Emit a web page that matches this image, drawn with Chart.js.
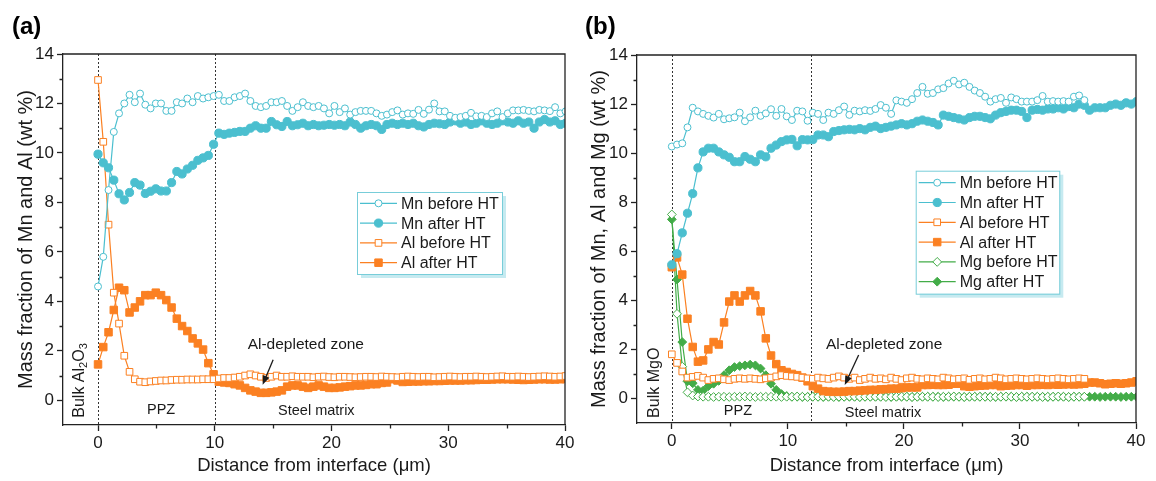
<!DOCTYPE html>
<html>
<head>
<meta charset="utf-8">
<script src="https://cdn.jsdelivr.net/npm/chart.js@4.4.0/dist/chart.umd.min.js"></script>
<style>
  html, body { margin: 0; padding: 0; background: #fff; }
  #wrap { position: relative; width: 1156px; height: 481px; }
  .panel { position: absolute; top: 0; width: 578px; height: 481px; }
</style>
</head>
<body>
<div id="wrap">
  <div class="panel" style="left:0"><canvas id="chartA" width="578" height="481"></canvas></div>
  <div class="panel" style="left:578px"><canvas id="chartB" width="578" height="481"></canvas></div>
</div>
<script>
// line scan spacing, µm (point i sits at i * STEP)
const STEP = 0.45;

// (a) Al2O3 side
const aMnBefore = [4.6,5.8,8.5,10.85,11.6,12.0,12.35,12.05,12.4,11.95,
  11.8,12.0,12.0,11.7,11.7,12.05,12.0,12.2,12.05,12.3,
  12.2,12.25,12.3,12.35,12.1,12.1,12.25,12.3,12.4,12.1,
  11.9,11.85,11.9,12.05,12.05,12.1,11.9,11.7,11.85,12.05,
  11.9,11.85,11.9,11.8,11.6,11.9,11.65,11.8,11.55,11.65,
  11.7,11.7,11.7,11.6,11.5,11.55,11.65,11.72,11.55,11.6,
  11.58,11.74,11.58,11.75,12.0,11.68,11.68,11.5,11.42,11.45,
  11.5,11.62,11.48,11.5,11.45,11.6,11.68,11.45,11.6,11.72,
  11.72,11.74,11.7,11.68,11.74,11.72,11.69,11.85,11.6,11.68];
const aMnAfter = [9.95,9.6,9.4,8.9,8.35,8.1,8.4,8.8,8.7,8.36,
  8.45,8.55,8.46,8.46,8.8,9.25,9.15,9.35,9.5,9.7,
  9.8,9.9,10.35,10.8,10.75,10.8,10.83,10.87,10.87,11.0,
  11.1,11.0,11.0,11.27,11.14,11.07,11.27,11.1,11.14,11.2,
  11.1,11.15,11.1,11.12,11.15,11.12,11.15,11.1,11.25,11.15,
  11.0,11.1,11.15,11.1,10.95,11.15,11.2,11.15,11.2,11.15,
  11.2,11.1,11.05,11.15,11.2,11.18,11.15,11.25,11.3,11.2,
  11.25,11.15,11.2,11.3,11.2,11.15,11.2,11.3,11.25,11.2,
  11.3,11.2,11.25,11.0,11.25,11.35,11.25,11.3,11.15,11.2];
const aAlBefore = [12.95,10.45,7.1,4.35,3.1,1.8,1.15,0.85,0.75,0.73,
  0.76,0.78,0.8,0.8,0.82,0.83,0.83,0.84,0.84,0.84,
  0.85,0.85,0.85,0.88,0.9,0.9,0.92,0.95,1.0,1.05,
  1.0,0.95,0.9,0.95,1.0,0.95,0.95,0.97,0.95,0.95,
  0.95,0.93,0.95,0.96,0.94,0.93,0.95,0.95,0.94,0.93,
  0.94,0.95,0.95,0.94,0.96,0.95,0.94,0.93,0.95,0.96,
  0.95,0.94,0.95,0.95,0.93,0.94,0.95,0.96,0.95,0.94,
  0.95,0.95,0.96,0.95,0.94,0.95,0.96,0.97,0.95,0.95,
  0.96,0.95,0.94,0.95,0.96,0.97,0.96,0.95,0.96,0.98];
const aAlAfter = [1.45,2.15,2.75,3.65,4.55,4.45,3.55,3.75,4.0,4.25,
  4.25,4.35,4.25,4.05,3.75,3.3,3.0,2.8,2.5,2.3,
  2.05,1.5,1.05,0.75,0.72,0.7,0.65,0.6,0.5,0.4,
  0.35,0.3,0.3,0.32,0.35,0.4,0.55,0.6,0.6,0.55,
  0.5,0.55,0.6,0.55,0.5,0.5,0.52,0.55,0.57,0.6,
  0.6,0.62,0.65,0.65,0.7,0.72,0.85,0.8,0.74,0.75,
  0.76,0.76,0.77,0.77,0.78,0.78,0.79,0.8,0.8,0.8,
  0.81,0.81,0.82,0.83,0.83,0.84,0.85,0.85,0.85,0.84,
  0.83,0.82,0.83,0.84,0.85,0.85,0.84,0.84,0.85,0.86];

// (b) MgO side ("before HT" scans stop near 35.5 µm)
const bMnBefore = [10.27,10.35,10.4,11.05,11.85,11.7,11.6,11.52,11.45,11.6,
  11.38,11.42,11.46,11.65,11.3,11.46,11.73,11.52,11.62,11.79,
  11.52,11.8,11.5,11.35,11.73,11.7,11.32,11.65,11.6,11.35,
  11.65,11.6,11.75,11.9,11.56,11.73,11.7,11.75,11.72,11.8,
  11.96,11.85,11.6,12.15,12.1,12.05,12.2,12.45,12.7,12.42,
  12.45,12.6,12.65,12.84,12.95,12.8,12.87,12.7,12.55,12.45,
  12.3,12.1,12.2,12.25,12.05,12.27,12.2,12.1,12.1,12.1,
  12.16,12.33,12.1,12.12,12.1,12.12,12.1,12.3,12.35,12.16];
const bMnAfter = [5.45,5.9,6.75,7.55,8.35,9.4,10.05,10.2,10.2,10.05,
  9.93,9.83,9.65,9.65,9.86,9.75,9.65,9.93,9.85,10.2,
  10.33,10.47,10.54,10.56,10.3,10.55,10.54,10.55,10.74,10.74,
  10.67,10.88,10.92,10.95,10.97,10.95,11.0,10.95,11.05,11.1,
  11.0,11.05,11.1,11.15,11.2,11.15,11.2,11.3,11.35,11.3,
  11.25,11.15,11.55,11.5,11.45,11.4,11.35,11.45,11.5,11.5,
  11.45,11.4,11.55,11.65,11.7,11.75,11.75,11.7,11.45,11.75,
  11.78,11.75,11.8,11.8,11.85,11.8,11.9,11.85,12.0,11.95,
  11.75,11.85,11.85,11.85,11.95,12.0,11.95,12.05,12.0,12.1];
const bAlBefore = [1.8,1.45,1.1,0.85,0.88,0.92,0.85,0.75,0.8,0.82,
  0.78,0.75,0.8,0.82,0.8,0.82,0.8,0.78,0.82,0.85,
  0.9,0.95,0.92,0.9,0.88,0.85,0.82,0.8,0.85,0.82,
  0.8,0.85,0.9,0.85,0.8,0.85,0.75,0.8,0.85,0.8,
  0.82,0.78,0.85,0.8,0.75,0.82,0.85,0.8,0.78,0.82,
  0.8,0.78,0.85,0.82,0.78,0.8,0.82,0.76,0.8,0.82,
  0.78,0.8,0.85,0.82,0.78,0.8,0.82,0.8,0.78,0.8,
  0.82,0.8,0.78,0.8,0.82,0.8,0.78,0.8,0.82,0.8];
const bAlAfter = [5.35,5.75,5.05,3.25,2.1,1.5,1.55,2.0,2.3,2.2,
  3.1,3.95,4.2,3.95,4.2,4.38,4.2,3.55,2.45,1.75,
  1.4,1.15,1.08,1.0,0.95,0.85,0.7,0.5,0.4,0.3,
  0.28,0.27,0.27,0.28,0.3,0.3,0.32,0.33,0.35,0.35,
  0.37,0.38,0.4,0.4,0.42,0.45,0.45,0.45,0.55,0.55,
  0.56,0.55,0.55,0.56,0.6,0.6,0.5,0.48,0.5,0.52,
  0.53,0.55,0.55,0.5,0.52,0.53,0.55,0.55,0.52,0.55,
  0.55,0.56,0.55,0.57,0.56,0.57,0.58,0.57,0.58,0.6,
  0.65,0.65,0.62,0.58,0.6,0.62,0.6,0.62,0.65,0.7];
const bMgBefore = [7.5,3.45,1.3,0.25,0.12,0.08,0.07,0.07,0.06,0.07,
  0.07,0.06,0.07,0.07,0.08,0.07,0.06,0.07,0.07,0.07,
  0.07,0.06,0.07,0.07,0.08,0.07,0.06,0.07,0.07,0.07,
  0.07,0.06,0.07,0.07,0.08,0.07,0.06,0.07,0.07,0.07,
  0.07,0.06,0.07,0.07,0.08,0.07,0.06,0.07,0.07,0.07,
  0.07,0.06,0.07,0.07,0.08,0.07,0.06,0.07,0.07,0.07,
  0.07,0.06,0.07,0.07,0.08,0.07,0.06,0.07,0.07,0.07,
  0.07,0.06,0.07,0.07,0.08,0.07,0.06,0.07,0.07,0.07];
const bMgAfter = [7.3,4.85,2.3,0.7,0.62,0.35,0.32,0.5,0.6,0.72,
  0.95,1.15,1.28,1.32,1.35,1.38,1.35,1.22,0.95,0.6,
  0.35,0.18,0.1,0.07,0.07,0.06,0.07,0.07,0.07,0.06,
  0.07,0.07,0.06,0.07,0.07,0.07,0.06,0.07,0.07,0.07,
  0.07,0.07,0.06,0.07,0.07,0.07,0.06,0.07,0.07,0.07,
  0.07,0.07,0.06,0.07,0.07,0.07,0.06,0.07,0.07,0.07,
  0.07,0.07,0.06,0.07,0.07,0.07,0.06,0.07,0.07,0.07,
  0.07,0.07,0.06,0.07,0.07,0.07,0.06,0.07,0.07,0.07,
  0.07,0.07,0.06,0.07,0.07,0.07,0.06,0.07,0.07,0.07];

const FONT = "'Liberation Sans', Arial, sans-serif";
const INK = '#1a1a1a';
const AXIS = '#222';
const MN = '#4bbfcf';
const AL = '#fb8022';
const MG = '#43ac48';

function series(label, vals, color, style, filled) {
  const r = { circle: filled ? 4.1 : 3.5, rect: filled ? 5.3 : 4.7, rectRot: 4.4 }[style];
  return {
    label,
    data: vals.map((v, i) => ({ x: +(i * STEP).toFixed(2), y: v })),
    borderColor: color,
    backgroundColor: filled ? color : '#fff',
    borderWidth: 1.2,
    pointStyle: style,
    pointRadius: r,
    pointBorderWidth: 1,
    pointBorderColor: color,
    pointBackgroundColor: filled ? color : '#fff',
    tension: 0
  };
}

function drawMarker(ctx, style, x, y, r, color, fill) {
  ctx.beginPath();
  if (style === 'circle') {
    ctx.arc(x, y, r, 0, Math.PI * 2);
  } else if (style === 'rect') {
    const s = r * Math.SQRT1_2;
    ctx.rect(x - s, y - s, 2 * s, 2 * s);
  } else {
    ctx.moveTo(x, y - r); ctx.lineTo(x + r, y); ctx.lineTo(x, y + r); ctx.lineTo(x - r, y); ctx.closePath();
  }
  ctx.fillStyle = fill; ctx.fill();
  ctx.lineWidth = 1; ctx.strokeStyle = color; ctx.stroke();
}

const framePlugin = {
  id: 'frame',
  beforeDatasetsDraw(chart, args, o) {
    const { ctx, chartArea: a } = chart;
    const xs = chart.scales.x;
    ctx.save();
    ctx.strokeStyle = '#333';
    ctx.lineWidth = 1;
    ctx.setLineDash([2, 2]);
    o.guides.forEach(v => {
      const px = Math.round(xs.getPixelForValue(v)) + 0.5;
      ctx.beginPath(); ctx.moveTo(px, a.top); ctx.lineTo(px, a.bottom); ctx.stroke();
    });
    ctx.restore();
  },
  afterDraw(chart, args, o) {
    const { ctx, chartArea: a } = chart;
    const xs = chart.scales.x, ys = chart.scales.y;
    ctx.save();

    // top + right frame, minor ticks
    ctx.strokeStyle = AXIS;
    ctx.lineWidth = 1.3;
    ctx.beginPath();
    ctx.moveTo(a.left, a.top); ctx.lineTo(a.right, a.top); ctx.lineTo(a.right, a.bottom);
    ctx.stroke();
    ctx.beginPath();
    [1, 3, 5, 7, 9, 11, 13].forEach(v => {
      const py = Math.round(ys.getPixelForValue(v)) + 0.5;
      ctx.moveTo(a.left, py); ctx.lineTo(a.left - 3.5, py);
    });
    [5, 15, 25, 35].forEach(v => {
      const px = Math.round(xs.getPixelForValue(v)) + 0.5;
      ctx.moveTo(px, a.bottom); ctx.lineTo(px, a.bottom + 3.5);
    });
    ctx.stroke();

    // zone labels
    ctx.fillStyle = INK;
    ctx.textAlign = 'center';
    ctx.textBaseline = 'middle';
    o.notes.forEach(n => {
      ctx.font = n.size + 'px ' + FONT;
      ctx.fillText(n.text, xs.getPixelForValue(n.x), ys.getPixelForValue(n.y));
    });

    // rotated "Bulk ..." label with subscripts
    const bx = xs.getPixelForValue(o.bulk.x), by = ys.getPixelForValue(o.bulk.y);
    ctx.save();
    ctx.translate(bx, by);
    ctx.rotate(-Math.PI / 2);
    ctx.textAlign = 'left';
    ctx.textBaseline = 'middle';
    let total = 0;
    o.bulk.parts.forEach(p => { ctx.font = (p[1] ? 11 : 16) + 'px ' + FONT; total += ctx.measureText(p[0]).width; });
    let cx = -total / 2;
    o.bulk.parts.forEach(p => {
      ctx.font = (p[1] ? 11 : 16) + 'px ' + FONT;
      ctx.fillText(p[0], cx, p[1] ? 4 : 0);
      cx += ctx.measureText(p[0]).width;
    });
    ctx.restore();

    // arrow
    const x1 = xs.getPixelForValue(o.arrow.from[0]), y1 = ys.getPixelForValue(o.arrow.from[1]);
    const x2 = xs.getPixelForValue(o.arrow.to[0]), y2 = ys.getPixelForValue(o.arrow.to[1]);
    const ang = Math.atan2(y2 - y1, x2 - x1);
    ctx.strokeStyle = INK; ctx.lineWidth = 1.3;
    ctx.beginPath(); ctx.moveTo(x1, y1);
    ctx.lineTo(x2 - 6 * Math.cos(ang), y2 - 6 * Math.sin(ang)); ctx.stroke();
    ctx.beginPath();
    ctx.moveTo(x2, y2);
    ctx.lineTo(x2 - 9 * Math.cos(ang) + 3.5 * Math.sin(ang), y2 - 9 * Math.sin(ang) - 3.5 * Math.cos(ang));
    ctx.lineTo(x2 - 9 * Math.cos(ang) - 3.5 * Math.sin(ang), y2 - 9 * Math.sin(ang) + 3.5 * Math.cos(ang));
    ctx.closePath(); ctx.fillStyle = INK; ctx.fill();

    // legend box
    const lg = o.legend;
    const dsets = chart.data.datasets;
    const h = lg.rowH * dsets.length + lg.pad * 2;
    ctx.fillStyle = '#c6eaf0';
    ctx.fillRect(lg.x + 4, lg.y + 4, lg.w, h);
    ctx.fillStyle = '#fff';
    ctx.fillRect(lg.x, lg.y, lg.w, h);
    ctx.strokeStyle = '#78cdd9'; ctx.lineWidth = 1;
    ctx.strokeRect(lg.x + 0.5, lg.y + 0.5, lg.w, h);
    ctx.font = '16px ' + FONT;
    ctx.textAlign = 'left';
    ctx.textBaseline = 'middle';
    dsets.forEach((ds, i) => {
      const cy = lg.y + lg.pad + lg.rowH * (i + 0.5);
      ctx.strokeStyle = ds.borderColor; ctx.lineWidth = 1.2;
      ctx.beginPath(); ctx.moveTo(lg.x + 3, cy); ctx.lineTo(lg.x + 40, cy); ctx.stroke();
      drawMarker(ctx, ds.pointStyle, lg.x + 21.5, cy, ds.pointRadius, ds.borderColor, ds.pointBackgroundColor);
      ctx.fillStyle = INK;
      ctx.fillText(ds.label, lg.x + 44, cy + 1);
    });

    // panel letter
    ctx.font = 'bold 24px ' + FONT;
    ctx.fillStyle = '#000';
    ctx.fillText(o.letter, o.letterX, 27);
    ctx.restore();
  }
};
Chart.register(framePlugin);

function makeChart(id, datasets, cfg) {
  const tickFont = { family: FONT, size: 17 };
  return new Chart(document.getElementById(id), {
    type: 'line',
    data: { datasets },
    options: {
      responsive: false,
      animation: false,
      events: [],
      layout: { padding: { left: 0, top: cfg.top, right: cfg.right, bottom: 0 } },
      plugins: {
        legend: { display: false },
        tooltip: { enabled: false },
        frame: cfg.frame
      },
      scales: {
        x: {
          type: 'linear', min: -3, max: 40,
          afterFit: s => { s.height = cfg.xh; },
          ticks: { stepSize: 10, includeBounds: false, font: tickFont, color: INK, padding: 2, maxRotation: 0 },
          grid: { drawOnChartArea: false, tickLength: 6, tickColor: AXIS, tickWidth: 1.3 },
          border: { color: AXIS, width: 1.3 },
          title: { display: true, text: 'Distance from interface (μm)', font: { family: FONT, size: 18.5 }, color: INK, padding: { top: 4, bottom: 4 } }
        },
        y: {
          type: 'linear', min: -1, max: 14,
          afterFit: s => { s.width = cfg.yw; },
          ticks: { stepSize: 2, includeBounds: false, font: tickFont, color: INK, padding: 3 },
          grid: { drawOnChartArea: false, tickLength: 6, tickColor: AXIS, tickWidth: 1.3 },
          border: { color: AXIS, width: 1.3 },
          title: { display: true, text: cfg.ytitle, font: { family: FONT, size: 20 }, color: INK, padding: { top: cfg.ytp, bottom: 0 } }
        }
      }
    }
  });
}

makeChart('chartA', [
  series('Mn before HT', aMnBefore, MN, 'circle', false),
  series('Mn after HT', aMnAfter, MN, 'circle', true),
  series('Al before HT', aAlBefore, AL, 'rect', false),
  series('Al after HT', aAlAfter, AL, 'rect', true)
], {
  top: 54, right: 13, xh: 56, yw: 63, ytp: 14,
  ytitle: 'Mass fraction of Mn and Al (wt %)',
  frame: {
    guides: [0, 10],
    notes: [
      { text: 'PPZ', x: 5.4, y: -0.4, size: 14.5 },
      { text: 'Steel matrix', x: 18.7, y: -0.45, size: 14.5 },
      { text: 'Al-depleted zone', x: 17.8, y: 2.25, size: 15.5 }
    ],
    bulk: { x: -1.57, y: 0.8, parts: [['Bulk Al', 0], ['2', 1], ['O', 0], ['3', 1]] },
    arrow: { from: [15.0, 1.64], to: [14.1, 0.63] },
    legend: { x: 357, y: 192, w: 145, rowH: 19.8, pad: 1.4 },
    letter: '(a)', letterX: 12
  }
});

makeChart('chartB', [
  series('Mn before HT', bMnBefore, MN, 'circle', false),
  series('Mn after HT', bMnAfter, MN, 'circle', true),
  series('Al before HT', bAlBefore, AL, 'rect', false),
  series('Al after HT', bAlAfter, AL, 'rect', true),
  series('Mg before HT', bMgBefore, MG, 'rectRot', false),
  series('Mg after HT', bMgAfter, MG, 'rectRot', true)
], {
  top: 55, right: 20, xh: 58, yw: 59, ytp: 9,
  ytitle: 'Mass fraction of Mn, Al and Mg (wt %)',
  frame: {
    guides: [0, 12],
    notes: [
      { text: 'PPZ', x: 5.7, y: -0.5, size: 14.5 },
      { text: 'Steel matrix', x: 18.2, y: -0.6, size: 14.5 },
      { text: 'Al-depleted zone', x: 18.3, y: 2.18, size: 15.5 }
    ],
    bulk: { x: -1.5, y: 0.64, parts: [['Bulk MgO', 0]] },
    arrow: { from: [16.1, 1.77], to: [14.9, 0.55] },
    legend: { x: 337.7, y: 170.7, w: 143.6, rowH: 19.8, pad: 2.1 },
    letter: '(b)', letterX: 7
  }
});
</script>
</body>
</html>
